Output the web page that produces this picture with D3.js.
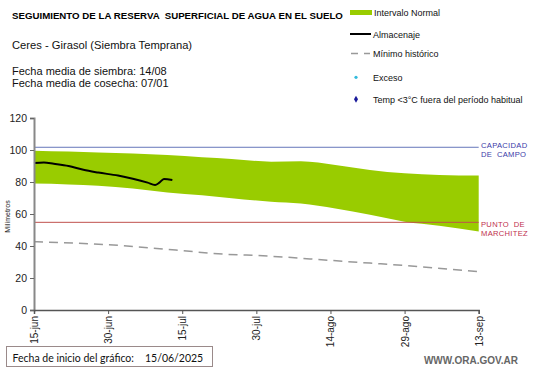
<!DOCTYPE html>
<html>
<head>
<meta charset="utf-8">
<script src="https://cdn.jsdelivr.net/npm/d3@7"></script>
<style>
  body { margin: 0; background: #fff; }
  svg { display: block; font-family: "Liberation Sans", Arial, sans-serif; }
</style>
</head>
<body>
<div id="chart"></div>
<script>
// Días desde el 15/06/2025
var tickDays = [0, 15, 30, 45, 60, 75, 90];
var tickLabels = ["15-jun", "30-jun", "15-jul", "30-jul", "14-ago", "29-ago", "13-sep"];
var yTicks = [0, 20, 40, 60, 80, 100, 120];

// Intervalo normal (límite superior e inferior)
var bandDays  = [0, 7, 13, 20, 27, 34, 40, 48, 54, 61, 68, 75, 82, 90];
var bandUpper = [99.5, 99, 98.5, 97.8, 96.9, 95.5, 94.4, 92.7, 93, 90.6, 87.5, 85.4, 84.4, 84];
var bandLower = [79, 78.5, 77.7, 76, 73.5, 71.7, 69.8, 67.7, 66.5, 63.5, 59.5, 55.2, 52.7, 49];

// Almacenaje
var storeDays   = [0, 2, 4, 7, 10, 13, 17, 20, 23, 24.5, 25.3, 26.3, 28];
var storeValues = [91.8, 92.2, 91.4, 90, 87.6, 85.9, 84, 82, 79.6, 78.2, 79.4, 81.9, 81.3];

// Mínimo histórico
var minDays   = [0, 15, 30, 36, 48, 60, 68, 75, 90];
var minValues = [42.7, 40.8, 37.1, 35.4, 33.6, 31, 29.3, 27.8, 24];

var capacidadCampo = 101.7;
var puntoMarchitez = 54.8;

var width = 541, height = 368;
var svg = d3.select("#chart").append("svg")
    .attr("width", width)
    .attr("height", height);

var x = d3.scaleLinear().domain([0, 90]).range([34, 478.7]);
var y = d3.scaleLinear().domain([0, 120]).range([310, 118]);

// Textos de cabecera
svg.append("text")
    .attr("x", 12).attr("y", 18.5)
    .attr("font-size", 9.7).attr("font-weight", "bold").attr("fill", "#000")
    .attr("xml:space", "preserve")
    .text("SEGUIMIENTO DE LA RESERVA  SUPERFICIAL DE AGUA EN EL SUELO");

svg.append("text")
    .attr("x", 12).attr("y", 49)
    .attr("font-size", 11.2).attr("fill", "#111")
    .text("Ceres - Girasol (Siembra Temprana)");

svg.append("text")
    .attr("x", 12).attr("y", 75)
    .attr("font-size", 11).attr("fill", "#111")
    .text("Fecha media de siembra: 14/08");

svg.append("text")
    .attr("x", 12).attr("y", 86.5)
    .attr("font-size", 11).attr("fill", "#111")
    .text("Fecha media de cosecha: 07/01");

// Leyenda
var lg = svg.append("g").attr("font-size", 9).attr("fill", "#111");
lg.append("rect").attr("x", 350).attr("y", 10).attr("width", 22).attr("height", 5).attr("fill", "#99cc00");
lg.append("text").attr("x", 374).attr("y", 15.5).text("Intervalo Normal");
lg.append("line").attr("x1", 350).attr("x2", 371).attr("y1", 34).attr("y2", 34)
    .attr("stroke", "#000").attr("stroke-width", 2);
lg.append("text").attr("x", 373).attr("y", 37.5).text("Almacenaje");
lg.append("line").attr("x1", 351).attr("x2", 370).attr("y1", 53.5).attr("y2", 53.5)
    .attr("stroke", "#999").attr("stroke-width", 1.5).attr("stroke-dasharray", "7,6");
lg.append("text").attr("x", 373).attr("y", 57).text("Mínimo histórico");
lg.append("circle").attr("cx", 356).attr("cy", 77.3).attr("r", 1.6).attr("fill", "#33bbdd");
lg.append("text").attr("x", 373).attr("y", 80.5).text("Exceso");
lg.append("path").attr("d", d3.symbol(d3.symbolDiamond, 14)()).attr("transform", "translate(356,99.3)")
    .attr("fill", "#1a1a9a");
lg.append("text").attr("x", 373).attr("y", 102.5).text("Temp <3°C fuera del período habitual");

// Banda de intervalo normal
var band = bandDays.map(function(d, i) { return { d: d, hi: bandUpper[i], lo: bandLower[i] }; });
svg.append("path")
    .datum(band)
    .attr("fill", "#99cc00")
    .attr("d", d3.area()
        .x(function(d) { return x(d.d); })
        .y0(function(d) { return y(d.lo); })
        .y1(function(d) { return y(d.hi); })
        .curve(d3.curveMonotoneX));

// Líneas de referencia
svg.append("line")
    .attr("x1", x(0)).attr("x2", x(90))
    .attr("y1", y(capacidadCampo)).attr("y2", y(capacidadCampo))
    .attr("stroke", "#6677bb").attr("stroke-width", 1);
svg.append("line")
    .attr("x1", x(0)).attr("x2", x(90))
    .attr("y1", y(puntoMarchitez)).attr("y2", y(puntoMarchitez))
    .attr("stroke", "#c0504d").attr("stroke-width", 1);

var rl = svg.append("g").attr("font-size", 7.6).attr("letter-spacing", 0.3);
rl.append("text").attr("x", 481).attr("y", 147.8).attr("fill", "#3a3aa8").text("CAPACIDAD");
rl.append("text").attr("x", 481).attr("y", 157).attr("fill", "#3a3aa8").attr("xml:space", "preserve").text("DE  CAMPO");
rl.append("text").attr("x", 481).attr("y", 227).attr("fill", "#c0304d").attr("xml:space", "preserve").text("PUNTO  DE");
rl.append("text").attr("x", 481).attr("y", 236).attr("fill", "#c0304d").text("MARCHITEZ");

// Mínimo histórico
var minData = minDays.map(function(d, i) { return { d: d, v: minValues[i] }; });
svg.append("path")
    .datum(minData)
    .attr("fill", "none")
    .attr("stroke", "#999")
    .attr("stroke-width", 1.5)
    .attr("stroke-dasharray", "9,6")
    .attr("d", d3.line()
        .x(function(d) { return x(d.d); })
        .y(function(d) { return y(d.v); })
        .curve(d3.curveMonotoneX));

// Almacenaje
var storeData = storeDays.map(function(d, i) { return { d: d, v: storeValues[i] }; });
svg.append("path")
    .datum(storeData)
    .attr("fill", "none")
    .attr("stroke", "#000")
    .attr("stroke-width", 2)
    .attr("d", d3.line()
        .x(function(d) { return x(d.d); })
        .y(function(d) { return y(d.v); })
        .curve(d3.curveMonotoneX));

// Ejes
var yAxis = svg.append("g")
    .attr("transform", "translate(" + x(0) + ",0)")
    .call(d3.axisLeft(y).tickValues(yTicks).tickSize(4).tickPadding(3));
yAxis.select(".domain").attr("stroke", "#888").attr("stroke-width", 2);
yAxis.selectAll(".tick line").attr("stroke", "#666");
yAxis.selectAll(".tick text").attr("font-size", 10.5).attr("fill", "#222")
    .attr("font-family", "Liberation Sans, Arial, sans-serif");

var xAxis = svg.append("g")
    .attr("transform", "translate(0," + y(0) + ")")
    .call(d3.axisBottom(x).tickValues(tickDays).tickSize(4)
        .tickFormat(function(d, i) { return tickLabels[i]; }));
xAxis.select(".domain").attr("stroke", "#555").attr("stroke-width", 1.5);
xAxis.selectAll(".tick line").attr("stroke", "#555");
xAxis.selectAll(".tick text")
    .attr("font-size", 10).attr("fill", "#222")
    .attr("font-family", "Liberation Sans, Arial, sans-serif")
    .attr("text-anchor", "end")
    .attr("transform", "rotate(-90)")
    .attr("x", -6).attr("y", 0).attr("dy", "0.35em");

svg.append("text")
    .attr("transform", "translate(9.5,216.5) rotate(-90)")
    .attr("text-anchor", "middle")
    .attr("font-size", 7).attr("fill", "#222")
    .text("Milímetros");

// Fecha de inicio
svg.append("rect")
    .attr("x", 6.5).attr("y", 346.5).attr("width", 206).attr("height", 20)
    .attr("fill", "#fff").attr("stroke", "#9a8a8a").attr("stroke-width", 1);
svg.append("text")
    .attr("x", 12.5).attr("y", 361.5)
    .attr("font-family", "Lato, 'Open Sans', sans-serif")
    .attr("font-size", 10.5).attr("fill", "#111")
    .text("Fecha de inicio del gráfico:");
svg.append("text")
    .attr("x", 145).attr("y", 361.5)
    .attr("font-family", "Lato, 'Open Sans', sans-serif")
    .attr("font-size", 10.5).attr("fill", "#111")
    .text("15/06/2025");

svg.append("text")
    .attr("x", 518).attr("y", 364)
    .attr("text-anchor", "end")
    .attr("font-size", 10).attr("font-weight", "bold").attr("fill", "#666")
    .text("WWW.ORA.GOV.AR");
</script>
</body>
</html>
